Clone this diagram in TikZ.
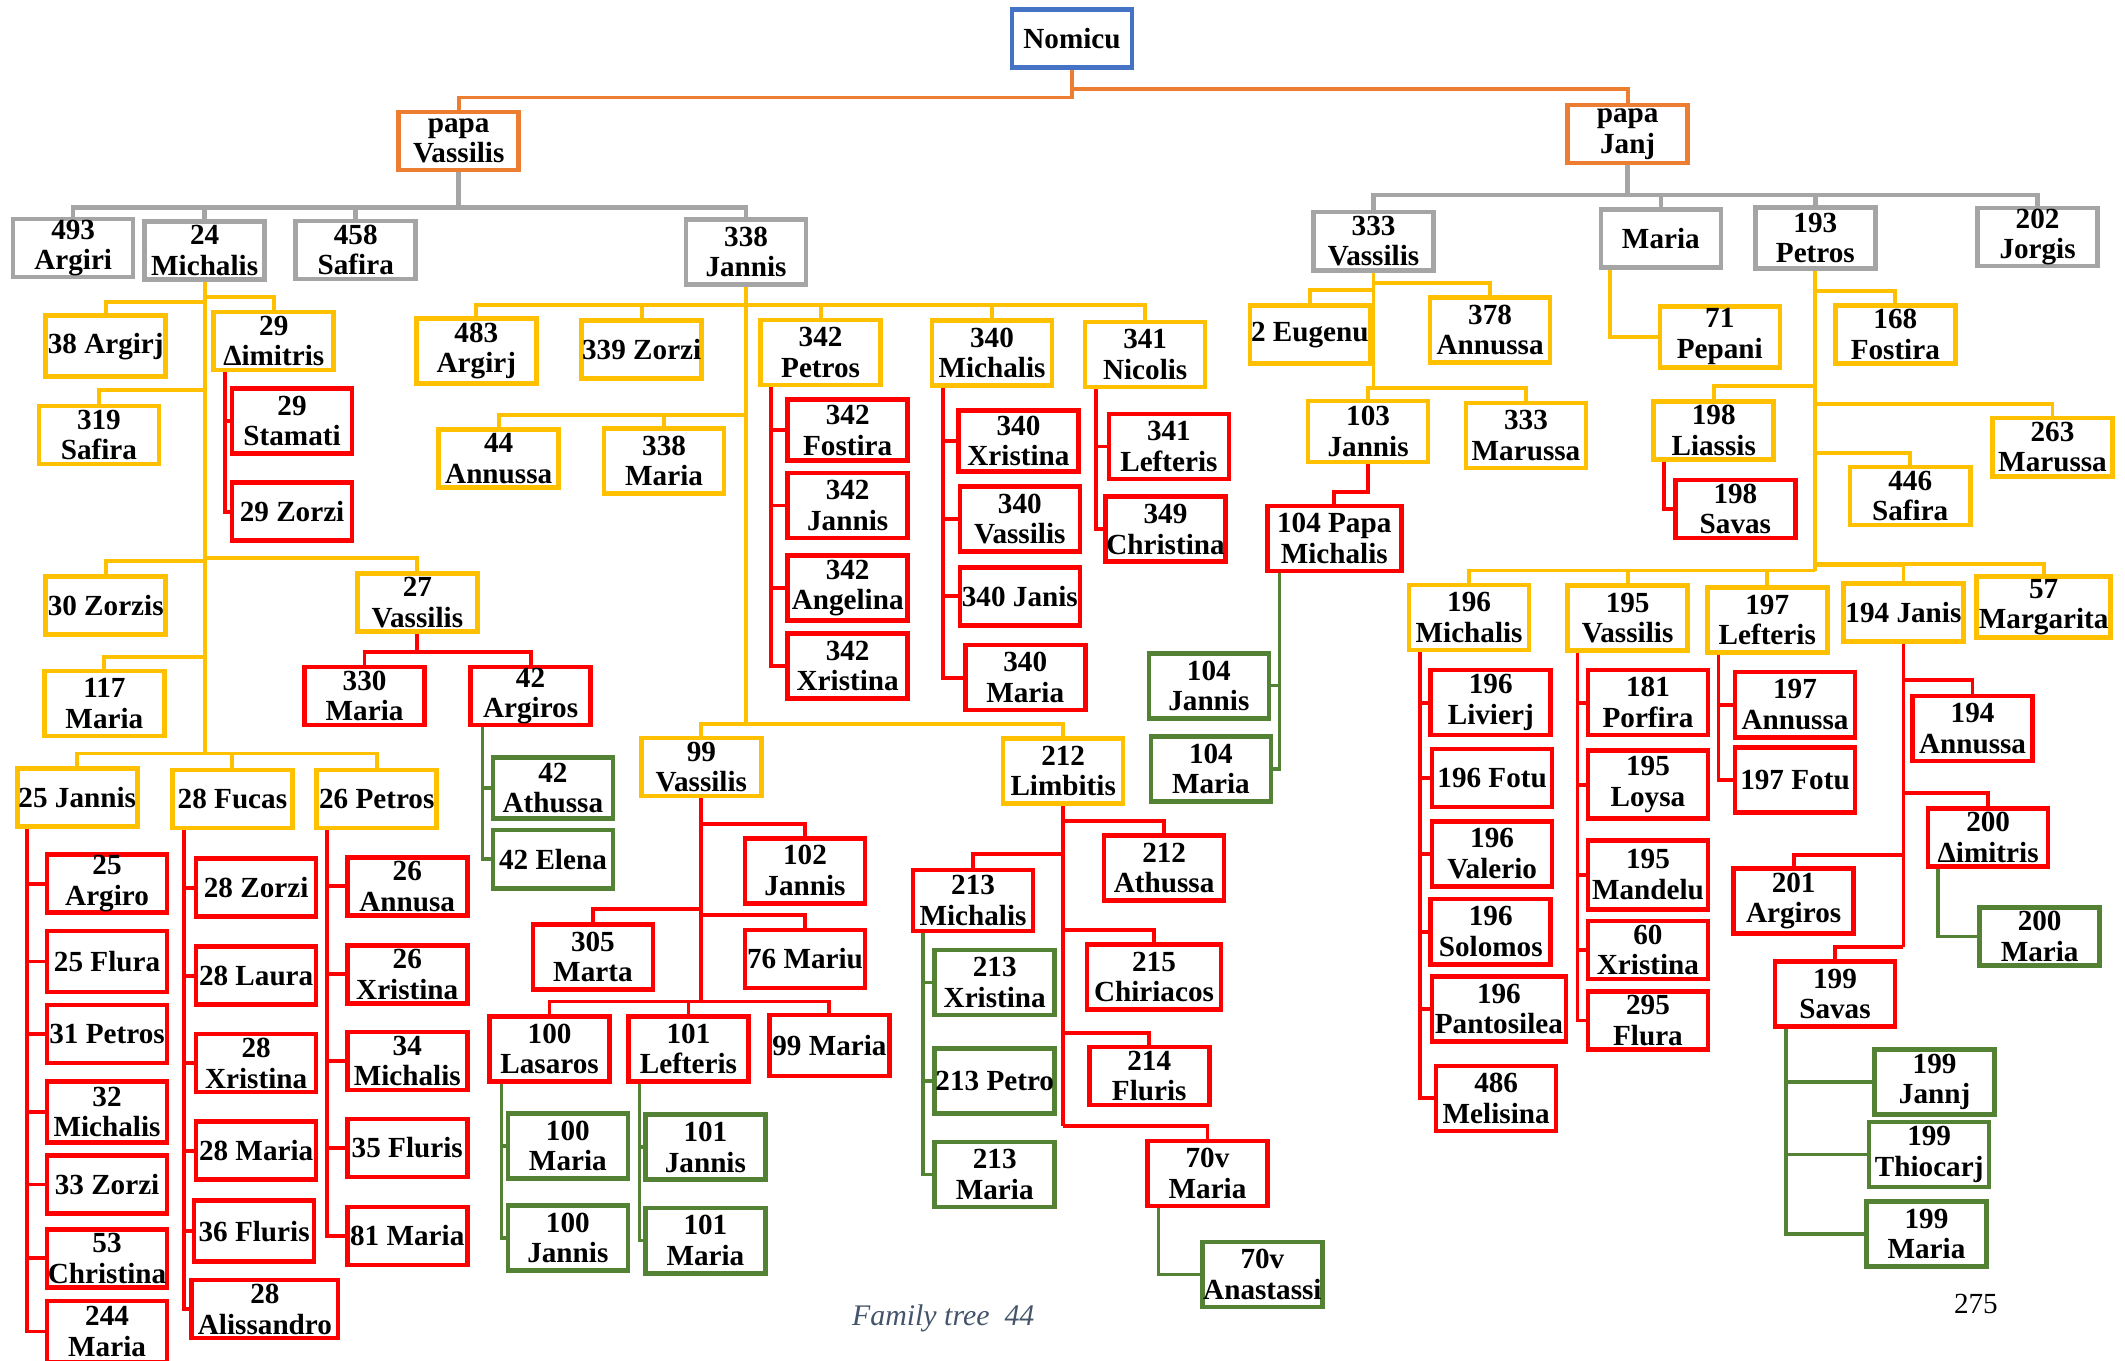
\documentclass[tikz,border=0pt]{standalone}
\usepackage{fontspec}
\setmainfont{Liberation Serif}
\usepackage{tikz}
\usetikzlibrary{calc}
\definecolor{nblue}{HTML}{4472C4}
\definecolor{norange}{HTML}{ED7D31}
\definecolor{ngray}{HTML}{A5A5A5}
\definecolor{nyellow}{HTML}{FFC000}
\definecolor{nred}{HTML}{FF0000}
\definecolor{ngreen}{HTML}{548235}
\definecolor{foot}{HTML}{44546A}
\tikzset{
  per/.style={rectangle,draw,line width=1.3pt,fill=white,inner sep=0pt,
    minimum width=1.2cm,minimum height=0.61cm,align=center,
    font=\fontsize{8.3}{8.7}\selectfont\bfseries},
  bper/.style={per,draw=nblue},
  oper/.style={per,draw=norange},
  gper/.style={per,draw=ngray},
  yper/.style={per,draw=nyellow},
  rper/.style={per,draw=nred},
  vper/.style={per,draw=ngreen},
  hi/.style={minimum height=0.65cm},
  lo/.style={minimum height=0.58cm},
  wd/.style={minimum width=1.34cm},
  oln/.style={draw=norange,line width=1.1pt},
  gln/.style={draw=ngray,line width=1.3pt},
  yln/.style={draw=nyellow,line width=1.1pt},
  rln/.style={draw=nred,line width=1.1pt},
  vln/.style={draw=ngreen,line width=1pt},
}
\begin{document}
\begin{tikzpicture}[x=0.013552cm,y=-0.013552cm]
\useasboundingbox (0,0) rectangle (1568,1004);
% root and the two papas
\node[bper,lo] (nomicu) at (791,28.5) {Nomicu};
\node[oper,lo] (papaV) at (338.5,104) {papa\\Vassilis};
\node[oper,lo] (papaJ) at (1201,99) {papa\\Janj};
% children of papa Vassilis
\node[gper,lo] (g493) at (54,183) {493\\Argiri};
\node[gper,lo] (g24) at (151,185) {24\\Michalis};
\node[gper,lo] (g458) at (262.5,184.5) {458\\Safira};
\node[gper,hi] (g338) at (550.5,186) {338\\Jannis};
% children of papa Janj
\node[gper,lo] (g333) at (1013.5,178) {333\\Vassilis};
\node[gper,lo] (gmar) at (1225.5,176) {Maria};
\node[gper] (g193) at (1339.5,175.5) {193\\Petros};
\node[gper,lo] (g202) at (1503.5,175) {202\\Jorgis};
% 24 Michalis
\node[yper] (y38) at (78,255.5) {38 Argirj};
\node[yper,lo] (y29a) at (202,251.5) {29\\Δimitris};
\node[yper,lo] (y319) at (73,321) {319\\Safira};
\node[yper,lo] (y30) at (78,447) {30 Zorzis};
\node[yper,lo] (y27) at (308,444.5) {27\\Vassilis};
\node[yper,hi] (y117) at (77,519) {117\\Maria};
\node[yper,lo] (y25) at (57,588.5) {25 Jannis};
\node[yper,lo] (y28) at (171.5,589.5) {28 Fucas};
\node[yper,lo] (y26) at (278,589.5) {26 Petros};
\node[rper,hi] (r29s) at (215.5,310.5) {29\\Stamati};
\node[rper,lo] (r29z) at (215.5,377.5) {29 Zorzi};
\node[rper,lo] (r330) at (269,513.5) {330\\Maria};
\node[rper,lo] (r42) at (391.5,513.5) {42\\Argiros};
\node[vper] (v42a) at (408,581.5) {42\\Athussa};
\node[vper,lo] (v42e) at (408,634) {42 Elena};
\node[rper,lo] (r25a) at (79,652) {25\\Argiro};
\node[rper] (r25f) at (79,709.5) {25 Flura};
\node[rper,lo] (r31) at (79,763) {31 Petros};
\node[rper] (r32) at (79,820.5) {32\\Michalis};
\node[rper,lo] (r33) at (79,874) {33 Zorzi};
\node[rper,lo] (r53) at (79,928.5) {53\\Christina};
\node[rper] (r244) at (79,982.5) {244\\Maria};
\node[rper,lo] (r28z) at (189,655) {28 Zorzi};
\node[rper,lo] (r28l) at (189,720) {28 Laura};
\node[rper,lo] (r28x) at (189,784.5) {28\\Xristina};
\node[rper,lo] (r28m) at (189,849) {28 Maria};
\node[rper] (r36) at (187.5,908.5) {36 Fluris};
\node[rper,lo,minimum width=1.464cm] (r28al) at (195.5,966) {28\\Alissandro};
\node[rper,lo] (r26a) at (300.5,654) {26\\Annusa};
\node[rper,lo] (r26x) at (300.5,719) {26\\Xristina};
\node[rper,lo] (r34) at (300.5,783) {34\\Michalis};
\node[rper,lo] (r35) at (300.5,847) {35 Fluris};
\node[rper,lo] (r81) at (300.5,912) {81 Maria};
% 338 Jannis
\node[yper,hi] (y483) at (351.5,259) {483\\Argirj};
\node[yper,lo] (y339) at (473.5,258) {339 Zorzi};
\node[yper,hi] (y342) at (605.5,260) {342\\Petros};
\node[yper,hi] (y340) at (732,260.5) {340\\Michalis};
\node[yper,hi] (y341) at (845,261.5) {341\\Nicolis};
\node[yper,lo] (y44) at (368,338.5) {44\\Annussa};
\node[yper,hi] (y338m) at (490,340) {338\\Maria};
\node[yper,lo] (y99) at (517.5,566) {99\\Vassilis};
\node[yper,hi] (y212) at (784.5,569) {212\\Limbitis};
\node[rper] (r342f) at (625.5,317.5) {342\\Fostira};
\node[rper,hi] (r342j) at (625.5,373) {342\\Jannis};
\node[rper,hi] (r342a) at (625.5,434) {342\\Angelina};
\node[rper,hi] (r342x) at (625.5,491.5) {342\\Xristina};
\node[rper] (r340x) at (751.5,325.5) {340\\Xristina};
\node[rper,hi] (r340v) at (752.5,383) {340\\Vassilis};
\node[rper,lo] (r340j) at (752.5,440) {340 Janis};
\node[rper,hi] (r340m) at (756.5,500) {340\\Maria};
\node[rper,hi] (r341l) at (862.5,329.5) {341\\Lefteris};
\node[rper,hi] (r349) at (860,390.5) {349\\Christina};
\node[rper,hi] (r102) at (594,642.5) {102\\Jannis};
\node[rper,hi] (r305) at (437.5,706) {305\\Marta};
\node[rper,lo] (r76) at (594,707.5) {76 Mariu};
\node[rper,hi] (r100) at (405.5,774) {100\\Lasaros};
\node[rper,hi] (r101) at (508,774) {101\\Lefteris};
\node[rper] (r99m) at (612,771.5) {99 Maria};
\node[vper,hi] (v100m) at (419,845.5) {100\\Maria};
\node[vper,hi] (v100j) at (419,913.5) {100\\Jannis};
\node[vper,hi] (v101j) at (520.5,846.5) {101\\Jannis};
\node[vper,hi] (v101m) at (520.5,915.5) {101\\Maria};
\node[rper,hi] (r212a) at (859,640.5) {212\\Athussa};
\node[rper] (r213m) at (718,664.5) {213\\Michalis};
\node[rper,hi,wd] (r215) at (851.5,721) {215\\Chiriacos};
\node[rper,lo] (r214) at (848,794) {214\\Fluris};
\node[rper,hi] (r70m) at (891,866) {70v\\Maria};
\node[vper,hi] (v70a) at (931.5,940.5) {70v\\Anastassi};
\node[vper,hi] (v213x) at (734,725) {213\\Xristina};
\node[vper,hi] (v213p) at (734,797.5) {213 Petro};
\node[vper,hi] (v213m) at (734,866.5) {213\\Maria};
% 333 Vassilis and Maria
\node[yper,lo] (y2) at (966.5,247) {2 Eugenu};
\node[yper,hi] (y378) at (1099.5,243.5) {378\\Annussa};
\node[yper] (y103) at (1009.5,318.5) {103\\Jannis};
\node[yper,hi] (y333m) at (1126,321.5) {333\\Marussa};
\node[rper,hi,wd] (r104) at (984.5,397.5) {104 Papa\\Michalis};
\node[vper,hi] (v104j) at (892,506) {104\\Jannis};
\node[vper,hi] (v104m) at (893.5,567.5) {104\\Maria};
\node[yper] (y71) at (1269,248.5) {71\\Pepani};
% 193 Petros
\node[yper,lo] (y168) at (1398.5,247) {168\\Fostira};
\node[yper,lo] (y198) at (1264.5,317.5) {198\\Liassis};
\node[yper,lo] (y263) at (1514.5,330) {263\\Marussa};
\node[yper,lo] (y446) at (1409.5,366) {446\\Safira};
\node[yper,hi] (y196) at (1084,455.5) {196\\Michalis};
\node[yper,hi] (y195) at (1201,456) {195\\Vassilis};
\node[yper,hi] (y197) at (1304,457.5) {197\\Lefteris};
\node[yper,lo] (y194) at (1404.5,452) {194 Janis};
\node[yper,wd] (y57) at (1508,448) {57\\Margarita};
\node[rper,lo] (r198s) at (1280.5,375.5) {198\\Savas};
\node[rper,hi] (r196l) at (1100,518.5) {196\\Livierj};
\node[rper,lo] (r196f) at (1101,574) {196 Fotu};
\node[rper,hi] (r196v) at (1101,630) {196\\Valerio};
\node[rper,hi] (r196s) at (1100,687.5) {196\\Solomos};
\node[rper,hi,wd] (r196p) at (1106,744.5) {196\\Pantosilea};
\node[rper,hi] (r486) at (1104,810.5) {486\\Melisina};
\node[rper,hi] (r181) at (1216,518.5) {181\\Porfira};
\node[rper,minimum height=0.678cm] (r195l) at (1216,579) {195\\Loysa};
\node[rper,minimum height=0.69cm] (r195m) at (1216,645.5) {195\\Mandelu};
\node[rper,lo] (r60) at (1216,701) {60\\Xristina};
\node[rper,lo] (r295) at (1216,753) {295\\Flura};
\node[rper,hi] (r197a) at (1324.5,520) {197\\Annussa};
\node[rper,hi] (r197f) at (1324.5,575.5) {197 Fotu};
\node[rper,hi] (r194a) at (1455.5,537.5) {194\\Annussa};
\node[rper,lo] (r200a) at (1467,618) {200\\Δimitris};
\node[rper,hi] (r201) at (1323.5,665) {201\\Argiros};
\node[rper,hi] (r199s) at (1354,733.5) {199\\Savas};
\node[vper,lo] (v200m) at (1505,691) {200\\Maria};
\node[vper,hi] (v199j) at (1427.5,798.5) {199\\Jannj};
\node[vper,hi] (v199t) at (1423.5,852) {199\\Thiocarj};
\node[vper,hi] (v199m) at (1421.5,910.5) {199\\Maria};
% page foot
\node[font=\fontsize{8.5}{10}\selectfont\itshape,text=foot] (foot) at (696,973) {Family tree\ \ 44};
\node[font=\fontsize{8.3}{10}\selectfont] (page) at (1458,962) {275};

% connectors, top levels
\draw[oln] (nomicu.south) -- (nomicu.south |- 0,72) -| (papaV.north);
\draw[oln] (nomicu.south |- 0,66) -| (papaJ.north);
\draw[gln] (papaV.south) -- (papaV.south |- 0,153);
\foreach \c in {g493,g24,g458,g338} \draw[gln] (papaV.south |- 0,153) -| (\c.north);
\draw[gln] (papaJ.south) -- (papaJ.south |- 0,144);
\foreach \c in {g333,gmar,g193,g202} \draw[gln] (papaJ.south |- 0,144) -| (\c.north);
% 24 Michalis
\draw[yln] (g24.south) -- (g24.south |- 0,556);
\foreach \c/\y in {y38/223,y29a/219,y319/288,y30/414,y27/412,y117/485,y25/556,y28/556,y26/556}
  \draw[yln] (g24.south |- 0,\y) -| (\c.north);
\foreach \c in {r29s,r29z} \draw[rln] (y29a.south -| 166,0) |- (\c.west);
\draw[rln] (y27.south) -- (y27.south |- 0,481);
\foreach \c in {r330,r42} \draw[rln] (y27.south |- 0,481) -| (\c.north);
\foreach \c in {v42a,v42e} \draw[vln] (r42.south -| 356,0) |- (\c.west);
\foreach \c in {r25a,r25f,r31,r32,r33,r53,r244} \draw[rln] (y25.south -| 20,0) |- (\c.west);
\foreach \c in {r28z,r28l,r28x,r28m,r36,r28al} \draw[rln] (y28.south -| 136,0) |- (\c.west);
\foreach \c in {r26a,r26x,r34,r35,r81} \draw[rln] (y26.south -| 241,0) |- (\c.west);
% 338 Jannis
\draw[yln] (g338.south) -- (g338.south |- 0,534);
\foreach \c/\y in {y483/225,y339/225,y342/225,y340/225,y341/225,y44/306,y338m/306,y99/534,y212/534}
  \draw[yln] (g338.south |- 0,\y) -| (\c.north);
\foreach \c in {r342f,r342j,r342a,r342x} \draw[rln] (y342.south -| 569,0) |- (\c.west);
\foreach \c in {r340x,r340v,r340j,r340m} \draw[rln] (y340.south -| 696,0) |- (\c.west);
\foreach \c in {r341l,r349} \draw[rln] (y341.south -| 809,0) |- (\c.west);
\draw[rln] (y99.south) -- (y99.south |- 0,739);
\foreach \c/\y in {r102/608,r305/671,r76/675,r100/739,r101/739,r99m/739}
  \draw[rln] (y99.south |- 0,\y) -| (\c.north);
\foreach \c in {v100m,v100j} \draw[vln] (r100.south -| 370,0) |- (\c.west);
\foreach \c in {v101j,v101m} \draw[vln] (r101.south -| 472,0) |- (\c.west);
\draw[rln] (y212.south) -- (y212.south |- 0,831);
\foreach \c/\y in {r212a/606,r213m/630,r215/686,r214/762,r70m/831}
  \draw[rln] (y212.south |- 0,\y) -| (\c.north);
\foreach \c in {v213x,v213p,v213m} \draw[vln] (r213m.south -| 681,0) |- (\c.west);
\draw[vln] (r70m.south -| 855,0) |- (v70a.west);
% 333 Vassilis, Maria
\draw[yln] (g333.south) -- (g333.south |- 0,286);
\foreach \c/\y in {y2/214,y378/209,y103/286,y333m/286}
  \draw[yln] (g333.south |- 0,\y) -| (\c.north);
\draw[rln] (y103.south) -- (y103.south |- 0,363) -| (r104.north);
\foreach \c in {v104j,v104m} \draw[vln] (r104.south -| 944,0) |- (\c.east);
\draw[yln] (gmar.south -| 1188,0) |- (y71.west);
% 193 Petros
\draw[yln] (g193.south) -- (g193.south |- 0,421);
\foreach \c/\y in {y168/215,y198/285,y263/298,y446/334,y196/421,y195/421,y197/421,y194/417,y57/416}
  \draw[yln] (g193.south |- 0,\y) -| (\c.north);
\draw[rln] (y198.south -| 1228,0) |- (r198s.west);
\foreach \c in {r196l,r196f,r196v,r196s,r196p,r486} \draw[rln] (y196.south -| 1048,0) |- (\c.west);
\foreach \c in {r181,r195l,r195m,r60,r295} \draw[rln] (y195.south -| 1164,0) |- (\c.west);
\foreach \c in {r197a,r197f} \draw[rln] (y197.south -| 1268,0) |- (\c.west);
\draw[rln] (y194.south) -- (y194.south |- 0,699);
\foreach \c/\y in {r194a/502,r200a/585,r201/631,r199s/699}
  \draw[rln] (y194.south |- 0,\y) -| (\c.north);
\draw[vln] (r200a.south -| 1430,0) |- (v200m.west);
\foreach \c in {v199j,v199t,v199m} \draw[vln] (r199s.south -| 1318,0) |- (\c.west);
\end{tikzpicture}
\end{document}
